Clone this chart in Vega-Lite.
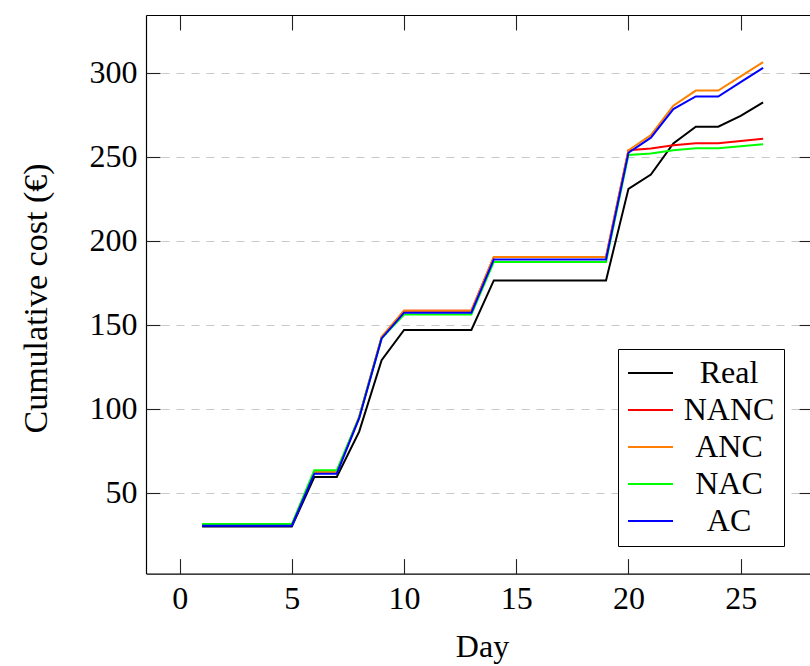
{
  "$schema": "https://vega.github.io/schema/vega-lite/v6.json",
  "width": 664,
  "height": 558.6,
  "autosize": {"type": "none"},
  "padding": {"left": 146, "top": 15, "right": 0, "bottom": 92.4},
  "background": "white",
  "config": {
    "view": {"stroke": null},
    "font": "Liberation Serif",
    "axis": {"domainColor": "black", "domainWidth": 1.2, "tickColor": "#222222", "tickWidth": 1.1, "grid": false}
  },
  "datasets": {
    "costs": [
      {"day": 1, "series": "Real", "cost": 30}, {"day": 2, "series": "Real", "cost": 30}, {"day": 3, "series": "Real", "cost": 30}, {"day": 4, "series": "Real", "cost": 30}, {"day": 5, "series": "Real", "cost": 30},
      {"day": 6, "series": "Real", "cost": 59.5}, {"day": 7, "series": "Real", "cost": 59.5}, {"day": 8, "series": "Real", "cost": 86.5}, {"day": 9, "series": "Real", "cost": 129},
      {"day": 10, "series": "Real", "cost": 147}, {"day": 11, "series": "Real", "cost": 147}, {"day": 12, "series": "Real", "cost": 147}, {"day": 13, "series": "Real", "cost": 147},
      {"day": 14, "series": "Real", "cost": 176.5}, {"day": 15, "series": "Real", "cost": 176.5}, {"day": 16, "series": "Real", "cost": 176.5}, {"day": 17, "series": "Real", "cost": 176.5}, {"day": 18, "series": "Real", "cost": 176.5}, {"day": 19, "series": "Real", "cost": 176.5},
      {"day": 20, "series": "Real", "cost": 231}, {"day": 21, "series": "Real", "cost": 239.5}, {"day": 22, "series": "Real", "cost": 258}, {"day": 23, "series": "Real", "cost": 268}, {"day": 24, "series": "Real", "cost": 268}, {"day": 25, "series": "Real", "cost": 274.5}, {"day": 26, "series": "Real", "cost": 282.5},

      {"day": 1, "series": "NANC", "cost": 31}, {"day": 2, "series": "NANC", "cost": 31}, {"day": 3, "series": "NANC", "cost": 31}, {"day": 4, "series": "NANC", "cost": 31}, {"day": 5, "series": "NANC", "cost": 31},
      {"day": 6, "series": "NANC", "cost": 62.5}, {"day": 7, "series": "NANC", "cost": 62.5}, {"day": 8, "series": "NANC", "cost": 95}, {"day": 9, "series": "NANC", "cost": 142.5},
      {"day": 10, "series": "NANC", "cost": 158.5}, {"day": 11, "series": "NANC", "cost": 158.5}, {"day": 12, "series": "NANC", "cost": 158.5}, {"day": 13, "series": "NANC", "cost": 158.5},
      {"day": 14, "series": "NANC", "cost": 190.5}, {"day": 15, "series": "NANC", "cost": 190.5}, {"day": 16, "series": "NANC", "cost": 190.5}, {"day": 17, "series": "NANC", "cost": 190.5}, {"day": 18, "series": "NANC", "cost": 190.5}, {"day": 19, "series": "NANC", "cost": 190.5},
      {"day": 20, "series": "NANC", "cost": 254}, {"day": 21, "series": "NANC", "cost": 255}, {"day": 22, "series": "NANC", "cost": 257}, {"day": 23, "series": "NANC", "cost": 258.2}, {"day": 24, "series": "NANC", "cost": 258.2}, {"day": 25, "series": "NANC", "cost": 259.5}, {"day": 26, "series": "NANC", "cost": 260.8},

      {"day": 1, "series": "ANC", "cost": 31}, {"day": 2, "series": "ANC", "cost": 31}, {"day": 3, "series": "ANC", "cost": 31}, {"day": 4, "series": "ANC", "cost": 31}, {"day": 5, "series": "ANC", "cost": 31},
      {"day": 6, "series": "ANC", "cost": 62.5}, {"day": 7, "series": "ANC", "cost": 62.5}, {"day": 8, "series": "ANC", "cost": 95.5}, {"day": 9, "series": "ANC", "cost": 143},
      {"day": 10, "series": "ANC", "cost": 158.5}, {"day": 11, "series": "ANC", "cost": 158.5}, {"day": 12, "series": "ANC", "cost": 158.5}, {"day": 13, "series": "ANC", "cost": 158.5},
      {"day": 14, "series": "ANC", "cost": 190.5}, {"day": 15, "series": "ANC", "cost": 190.5}, {"day": 16, "series": "ANC", "cost": 190.5}, {"day": 17, "series": "ANC", "cost": 190.5}, {"day": 18, "series": "ANC", "cost": 190.5}, {"day": 19, "series": "ANC", "cost": 190.5},
      {"day": 20, "series": "ANC", "cost": 254}, {"day": 21, "series": "ANC", "cost": 263}, {"day": 22, "series": "ANC", "cost": 280.5}, {"day": 23, "series": "ANC", "cost": 289.5}, {"day": 24, "series": "ANC", "cost": 289.5}, {"day": 25, "series": "ANC", "cost": 298}, {"day": 26, "series": "ANC", "cost": 306.5},

      {"day": 1, "series": "NAC", "cost": 31.5}, {"day": 2, "series": "NAC", "cost": 31.5}, {"day": 3, "series": "NAC", "cost": 31.5}, {"day": 4, "series": "NAC", "cost": 31.5}, {"day": 5, "series": "NAC", "cost": 31.5},
      {"day": 6, "series": "NAC", "cost": 63.5}, {"day": 7, "series": "NAC", "cost": 63.5}, {"day": 8, "series": "NAC", "cost": 95}, {"day": 9, "series": "NAC", "cost": 142},
      {"day": 10, "series": "NAC", "cost": 156.2}, {"day": 11, "series": "NAC", "cost": 156.2}, {"day": 12, "series": "NAC", "cost": 156.2}, {"day": 13, "series": "NAC", "cost": 156.2},
      {"day": 14, "series": "NAC", "cost": 187.5}, {"day": 15, "series": "NAC", "cost": 187.5}, {"day": 16, "series": "NAC", "cost": 187.5}, {"day": 17, "series": "NAC", "cost": 187.5}, {"day": 18, "series": "NAC", "cost": 187.5}, {"day": 19, "series": "NAC", "cost": 187.5},
      {"day": 20, "series": "NAC", "cost": 251.2}, {"day": 21, "series": "NAC", "cost": 252}, {"day": 22, "series": "NAC", "cost": 254}, {"day": 23, "series": "NAC", "cost": 255.2}, {"day": 24, "series": "NAC", "cost": 255.2}, {"day": 25, "series": "NAC", "cost": 256.4}, {"day": 26, "series": "NAC", "cost": 257.5},

      {"day": 1, "series": "AC", "cost": 30.5}, {"day": 2, "series": "AC", "cost": 30.5}, {"day": 3, "series": "AC", "cost": 30.5}, {"day": 4, "series": "AC", "cost": 30.5}, {"day": 5, "series": "AC", "cost": 30.5},
      {"day": 6, "series": "AC", "cost": 61.5}, {"day": 7, "series": "AC", "cost": 61.5}, {"day": 8, "series": "AC", "cost": 94.5}, {"day": 9, "series": "AC", "cost": 142},
      {"day": 10, "series": "AC", "cost": 157.3}, {"day": 11, "series": "AC", "cost": 157.3}, {"day": 12, "series": "AC", "cost": 157.3}, {"day": 13, "series": "AC", "cost": 157.3},
      {"day": 14, "series": "AC", "cost": 189}, {"day": 15, "series": "AC", "cost": 189}, {"day": 16, "series": "AC", "cost": 189}, {"day": 17, "series": "AC", "cost": 189}, {"day": 18, "series": "AC", "cost": 189}, {"day": 19, "series": "AC", "cost": 189},
      {"day": 20, "series": "AC", "cost": 252.5}, {"day": 21, "series": "AC", "cost": 261.5}, {"day": 22, "series": "AC", "cost": 278.5}, {"day": 23, "series": "AC", "cost": 286}, {"day": 24, "series": "AC", "cost": 286}, {"day": 25, "series": "AC", "cost": 294.5}, {"day": 26, "series": "AC", "cost": 303}
    ]
  },
  "data": {"name": "costs"},
  "resolve": {"axis": {"x": "independent", "y": "independent"}},
  "layer": [
    {
      "mark": {"type": "line", "strokeWidth": 2, "clip": true},
      "encoding": {
        "x": {
          "field": "day", "type": "quantitative",
          "scale": {"domain": [-1.5, 28.09], "nice": false, "zero": false},
          "axis": {
            "orient": "bottom", "values": [0, 5, 10, 15, 20, 25], "ticks": false, "domain": true,
            "labelFontSize": 32, "labelColor": "black", "labelPadding": 35, "labelBaseline": "alphabetic",
            "title": "Day", "titleFontSize": 32, "titleFontWeight": "normal", "titleColor": "black",
            "titleX": 336, "titleY": 83, "titleBaseline": "alphabetic", "titleAnchor": "middle"
          }
        },
        "y": {
          "field": "cost", "type": "quantitative",
          "scale": {"domain": [2, 334.5], "nice": false, "zero": false},
          "axis": {
            "orient": "left", "values": [50, 100, 150, 200, 250, 300], "ticks": false, "domain": true,
            "grid": true, "gridColor": "#c8c8c8", "gridDash": [8, 7], "gridWidth": 1,
            "labelFontSize": 32, "labelColor": "black", "labelPadding": 9, "labelBaseline": "middle",
            "title": "Cumulative cost (€)", "titleFontSize": 34, "titleFontWeight": "normal", "titleColor": "black",
            "titleX": -100, "titleY": 283, "titleBaseline": "alphabetic", "titleAnchor": "middle"
          }
        },
        "color": {
          "field": "series", "type": "nominal",
          "scale": {"domain": ["Real", "NANC", "ANC", "NAC", "AC"], "range": ["#000000", "#ff0000", "#ff8000", "#00ff00", "#0000ff"]},
          "legend": {
            "orient": "none", "legendX": 472, "legendY": 334, "title": null,
            "symbolType": "stroke", "symbolSize": 2025, "symbolStrokeWidth": 2,
            "labelFontSize": 32, "labelColor": "black", "labelAlign": "center", "labelOffset": 55, "labelBaseline": "middle",
            "strokeColor": "black", "fillColor": "white", "padding": 9, "clipHeight": 30, "rowPadding": 5, "cornerRadius": 0
          }
        }
      }
    },
    {
      "mark": {"type": "point", "opacity": 0},
      "encoding": {
        "x": {
          "field": "day", "type": "quantitative",
          "axis": {"orient": "top", "values": [0, 5, 10, 15, 20, 25], "labels": false, "title": null, "tickSize": -15, "domain": true}
        },
        "y": {
          "field": "cost", "type": "quantitative",
          "axis": {"orient": "right", "values": [50, 100, 150, 200, 250, 300], "labels": false, "title": null, "tickSize": -11, "domain": false}
        }
      }
    },
    {
      "mark": {"type": "point", "opacity": 0},
      "encoding": {
        "x": {
          "field": "day", "type": "quantitative",
          "axis": {"orient": "bottom", "values": [0, 5, 10, 15, 20, 25], "labels": false, "title": null, "tickSize": -15, "domain": false}
        },
        "y": {
          "field": "cost", "type": "quantitative",
          "axis": {"orient": "left", "values": [50, 100, 150, 200, 250, 300], "labels": false, "title": null, "tickSize": -14, "domain": false}
        }
      }
    }
  ]
}
